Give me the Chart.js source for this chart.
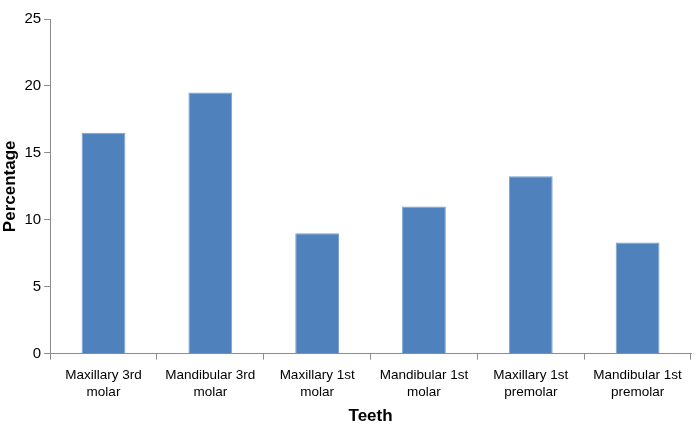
<!DOCTYPE html>
<html>
<head>
<meta charset="utf-8">
<script src="https://cdn.jsdelivr.net/npm/chart.js@4"></script>
<style>
  html, body { margin: 0; padding: 0; background: #fff; }
  #wrap { width: 697px; height: 425px; position: relative; }
</style>
</head>
<body>
<div id="wrap"><canvas id="teethChart"></canvas></div>
<script>
// chart data
const teeth = [
  ['Maxillary 3rd', 'molar'],
  ['Mandibular 3rd', 'molar'],
  ['Maxillary 1st', 'molar'],
  ['Mandibular 1st', 'molar'],
  ['Maxillary 1st', 'premolar'],
  ['Mandibular 1st', 'premolar']
];
const percentages = [16.5, 19.5, 9.0, 11.0, 13.25, 8.3];
const yTicks = [0, 5, 10, 15, 20, 25];

Chart.defaults.font.family = '"Liberation Sans", Arial, sans-serif';
Chart.defaults.color = '#000';

const axisColor = '#8c8c8c';

const ctx = document.getElementById('teethChart').getContext('2d');
new Chart(ctx, {
  type: 'bar',
  data: {
    labels: teeth,
    datasets: [{
      label: 'Percentage',
      data: percentages,
      backgroundColor: '#4f81bd',
      borderColor: '#7aa0d0',
      borderWidth: 1,
      categoryPercentage: 1,
      barPercentage: 0.41
    }]
  },
  options: {
    responsive: true,
    maintainAspectRatio: false,
    animation: false,
    layout: { padding: { top: 19, right: 6, left: 0, bottom: 0 } },
    plugins: {
      legend: { display: false },
      tooltip: { enabled: false }
    },
    scales: {
      y: {
        min: 0,
        max: 25,
        afterBuildTicks: function (axis) {
          axis.ticks = yTicks.map(v => ({ value: v }));
        },
        grid: {
          drawOnChartArea: false,
          color: axisColor,
          tickLength: 6
        },
        border: { color: axisColor, width: 1 },
        ticks: { font: { size: 15 }, padding: 3 },
        title: {
          display: true,
          text: 'Percentage',
          font: { size: 17, weight: 'bold' },
          padding: { top: 0, bottom: 1 }
        }
      },
      x: {
        offset: true,
        grid: {
          offset: true,
          drawOnChartArea: false,
          color: axisColor,
          tickLength: 6
        },
        border: { color: axisColor, width: 1 },
        ticks: { font: { size: 13.5, lineHeight: 1.2 }, maxRotation: 0, padding: 8 },
        title: {
          display: true,
          text: 'Teeth',
          font: { size: 17, weight: 'bold', lineHeight: 1 },
          padding: { top: 0, bottom: 0 }
        }
      }
    }
  }
});
</script>
</body>
</html>
